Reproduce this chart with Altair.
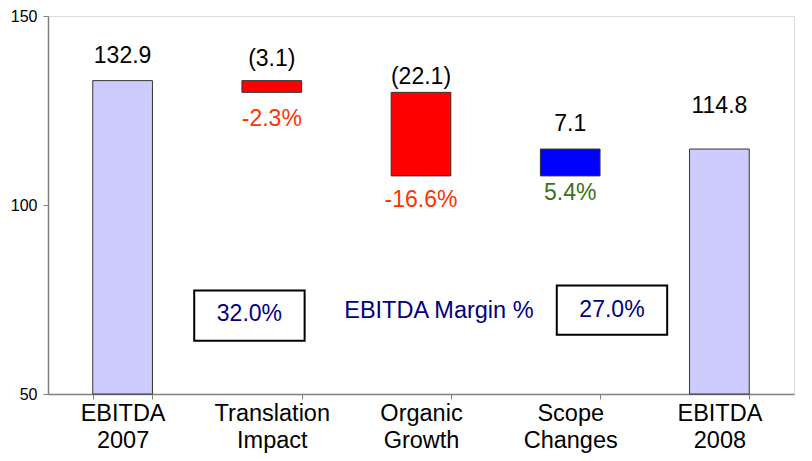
import altair as alt
import pandas as pd

# ---- data ----
categories = ["EBITDA|2007", "Translation|Impact", "Organic|Growth", "Scope|Changes", "EBITDA|2008"]
values = [132.9, -3.1, -22.1, 7.1, 114.8]
is_total = [True, False, False, False, True]
value_labels = ["132.9", "(3.1)", "(22.1)", "7.1", "114.8"]
value_label_y = [139.3, 138.5, 133.8, 121.5, 126.2]
pct_labels = ["", "-2.3%", "-16.6%", "5.4%", ""]
pct_label_y = [None, 122.8, 101.2, 103.3, None]
pct_colors = ["#000000", "#FF3300", "#FF3300", "#3A7318", "#000000"]
bar_colors = ["#CCCCFF", "#FF0000", "#FF0000", "#0000FF", "#CCCCFF"]

box_text = ["32.0%", "27.0%"]
box_x1 = [0.98, 3.41]
box_x2 = [1.72, 4.15]
box_y1 = [64.1, 65.7]
box_y2 = [77.4, 78.7]
margin_title = "EBITDA Margin %"
margin_title_x = 2.62
margin_title_y = 71.9
box_text_x = [1.35, 3.78]
box_text_y = [71.1, 72.2]

AXIS_MIN = 50

# waterfall bases
starts, ends = [], []
running = 0.0
for v, tot in zip(values, is_total):
    if tot:
        starts.append(AXIS_MIN)
        ends.append(v)
        running = v
    else:
        starts.append(running)
        running = running + v
        ends.append(running)

df = pd.DataFrame({
    "cat": categories,
    "start": starts,
    "end": ends,
    "color": bar_colors,
    "vlabel": value_labels,
    "vy": value_label_y,
    "plabel": pct_labels,
    "py": pct_label_y,
    "pcolor": pct_colors,
})

FONT = "Liberation Sans"
W, H = 746, 378
FS = 23

x = alt.X(
    "cat:N",
    sort=categories,
    scale=alt.Scale(paddingInner=0.6, paddingOuter=0.3),
    axis=alt.Axis(
        title=None,
        labelAngle=0,
        labelExpr="split(datum.label, '|')",
        labelFontSize=23.5,
        labelFont=FONT,
        labelColor="#000000",
        labelLineHeight=27,
        labelPadding=2,
        tickBand="extent",
        tickSize=5,
        tickColor="#808080",
        domainColor="#808080",
        domainWidth=1.5,
    ),
)
yscale = alt.Scale(domain=[50, 150], nice=False, zero=False)

bars = alt.Chart(df).mark_bar(stroke="#333333", strokeWidth=1).encode(
    x=x,
    y=alt.Y(
        "start:Q",
        scale=yscale,
        axis=alt.Axis(
            title=None,
            values=[50, 100, 150],
            grid=False,
            labelFontSize=16,
            labelFont=FONT,
            labelColor="#000000",
            labelPadding=6,
            tickSize=5,
            tickColor="#808080",
            domainColor="#808080",
            domainWidth=1.5,
        ),
    ),
    y2="end:Q",
    fill=alt.Fill("color:N", scale=None),
)

vlabels = alt.Chart(df).mark_text(fontSize=FS, font=FONT, color="#000000").encode(
    x=alt.X("cat:N", sort=categories),
    y=alt.Y("vy:Q", scale=yscale),
    text="vlabel:N",
)

plabels = alt.Chart(df).transform_filter("datum.plabel != ''").mark_text(
    fontSize=FS, font=FONT
).encode(
    x=alt.X("cat:N", sort=categories),
    y=alt.Y("py:Q", scale=yscale),
    text="plabel:N",
    color=alt.Color("pcolor:N", scale=None),
)

boxes_df = pd.DataFrame({
    "x1": box_x1, "x2": box_x2, "y1": box_y1, "y2": box_y2,
    "t": box_text, "tx": box_text_x, "ty": box_text_y,
})
ax_scale = alt.Scale(domain=[0, 5], nice=False, zero=False)

boxes = alt.Chart(boxes_df).mark_rect(
    fillOpacity=0, stroke="#000000", strokeWidth=2
).encode(
    x=alt.X("x1:Q", scale=ax_scale, axis=None),
    x2="x2:Q",
    y=alt.Y("y1:Q", scale=yscale),
    y2="y2:Q",
)
box_texts = alt.Chart(boxes_df).mark_text(fontSize=FS, font=FONT, color="#000080").encode(
    x=alt.X("tx:Q", scale=ax_scale, axis=None),
    y=alt.Y("ty:Q", scale=yscale),
    text="t:N",
)
title_df = pd.DataFrame({"t": [margin_title], "tx": [margin_title_x], "ty": [margin_title_y]})
title_text = alt.Chart(title_df).mark_text(fontSize=23.5, font=FONT, color="#000080").encode(
    x=alt.X("tx:Q", scale=ax_scale, axis=None),
    y=alt.Y("ty:Q", scale=yscale),
    text="t:N",
)

annot = alt.layer(boxes, box_texts, title_text)
main = alt.layer(bars, vlabels, plabels)

chart = alt.layer(main, annot).resolve_scale(x="independent").properties(
    width=W,
    height=H,
    autosize=alt.AutoSizeParams(type="none"),
    padding={"left": 40, "top": 8, "right": 10, "bottom": 60},
).configure_view(stroke=None).configure(background="white")

chart.save("out.html", embed_options={"renderer": "svg", "actions": False})
